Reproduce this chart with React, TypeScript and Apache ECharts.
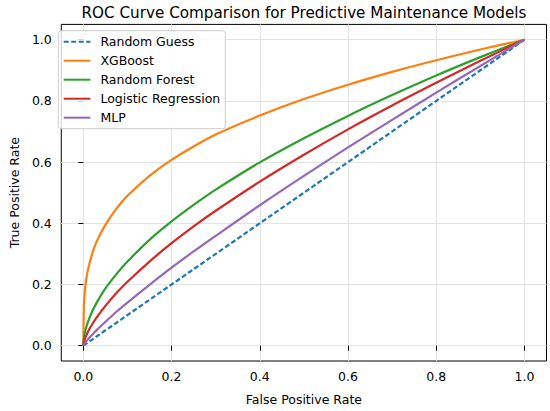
import React, { useEffect, useRef } from "react";
import * as echarts from "echarts";

const FPR = [0, 0.001, 0.002, 0.005, 0.01, 0.02, 0.03, 0.05, 0.075, 0.1, 0.15, 0.2, 0.25, 0.3, 0.4, 0.5, 0.6, 0.7, 0.8, 0.9, 1.0];
const XGB_TPR = [0, 0.12, 0.15, 0.2, 0.245, 0.3, 0.34, 0.395, 0.448, 0.49, 0.555, 0.607, 0.651, 0.69, 0.752, 0.806, 0.853, 0.895, 0.933, 0.968, 1.0];
const RF_TPR = [0, 0.021, 0.031, 0.051, 0.076, 0.112, 0.14, 0.187, 0.234, 0.275, 0.346, 0.406, 0.46, 0.51, 0.599, 0.678, 0.751, 0.819, 0.883, 0.943, 1.0];
const LR_TPR = [0, 0.009, 0.015, 0.027, 0.044, 0.07, 0.092, 0.13, 0.172, 0.209, 0.275, 0.335, 0.39, 0.441, 0.536, 0.624, 0.707, 0.785, 0.859, 0.931, 1.0];
const MLP_TPR = [0, 0.003, 0.005, 0.011, 0.02, 0.036, 0.051, 0.078, 0.111, 0.141, 0.199, 0.255, 0.308, 0.359, 0.459, 0.555, 0.648, 0.738, 0.827, 0.914, 1.0];
const GUESS_X = [0, 1];
const GUESS_Y = [0, 1];
const TICKS = [0, 0.2, 0.4, 0.6, 0.8, 1.0];

const FONT = "DejaVu Sans";

const pairs = (xs: number[], ys: number[]) => xs.map((x, i) => [x, ys[i]]);

export default function App() {
  const ref = useRef<HTMLDivElement>(null);
  useEffect(() => {
    if (!ref.current) return;
    const chart = echarts.init(ref.current, null, { renderer: "svg" });
    const axisCommon = {
      type: "value" as const,
      min: -0.05,
      max: 1.05,
      axisLine: { show: false },
      axisTick: {
        show: true,
        length: 5,
        customValues: TICKS,
        lineStyle: { color: "#000", width: 1 },
      },
      axisLabel: {
        customValues: TICKS,
        formatter: (v: number) => v.toFixed(1),
        color: "#000",
        fontFamily: FONT,
        fontSize: 12.5,
      },
      splitLine: { show: true, lineStyle: { color: "#e3e3e3", width: 1 } },
      nameLocation: "middle" as const,
      nameTextStyle: { color: "#000", fontFamily: FONT, fontSize: 12.5 },
    };
    const line = (name: string, data: number[][], color: string, dashed = false) => ({
      name,
      type: "line",
      data,
      symbol: "none",
      showSymbol: false,
      smooth: dashed ? false : 0.3,
      lineStyle: { color, width: 2.2, type: dashed ? [5, 2.5] : "solid" },
      itemStyle: { color },
      z: 3,
    });
    chart.setOption({
      animation: false,
      title: {
        text: "ROC Curve Comparison for Predictive Maintenance Models",
        left: 299,
        top: 0,
        textAlign: "center",
        textStyle: { color: "#000", fontFamily: FONT, fontSize: 15.2, fontWeight: "normal" },
      },
      grid: {
        left: 51.8,
        right: 3.5,
        top: 24.4,
        bottom: 42.9,
        show: true,
        borderColor: "#000",
        borderWidth: 1,
        backgroundColor: "transparent",
      },
      xAxis: {
        ...axisCommon,
        name: "False Positive Rate",
        nameGap: 32,
        axisLabel: { ...axisCommon.axisLabel, margin: 9 },
      },
      yAxis: {
        ...axisCommon,
        name: "True Positive Rate",
        nameGap: 40,
        axisLabel: { ...axisCommon.axisLabel, margin: 9.5 },
      },
      legend: {
        orient: "vertical",
        left: 58.3,
        top: 30.7,
        padding: [4, 5, 4, 4.4],
        itemWidth: 26.7,
        itemHeight: 14,
        itemGap: 5,
        itemStyle: { opacity: 0 },
        backgroundColor: "rgba(255,255,255,0.8)",
        borderColor: "#cccccc",
        borderWidth: 1,
        borderRadius: 3,
        textStyle: { color: "#000", fontFamily: FONT, fontSize: 12.5, lineHeight: 14, padding: [0, 0, 0, 5] },
        data: ["Random Guess", "XGBoost", "Random Forest", "Logistic Regression", "MLP"],
      },
      series: [
        line("Random Guess", pairs(GUESS_X, GUESS_Y), "#1f77b4", true),
        line("XGBoost", pairs(FPR, XGB_TPR), "#ff7f0e"),
        line("Random Forest", pairs(FPR, RF_TPR), "#2ca02c"),
        line("Logistic Regression", pairs(FPR, LR_TPR), "#d62728"),
        line("MLP", pairs(FPR, MLP_TPR), "#9467bd"),
      ],
    });
    return () => chart.dispose();
  }, []);
  return (
    <div
      ref={ref}
      style={{ position: "fixed", left: 0, top: 0, width: 550, height: 411, background: "#fff" }}
    />
  );
}
